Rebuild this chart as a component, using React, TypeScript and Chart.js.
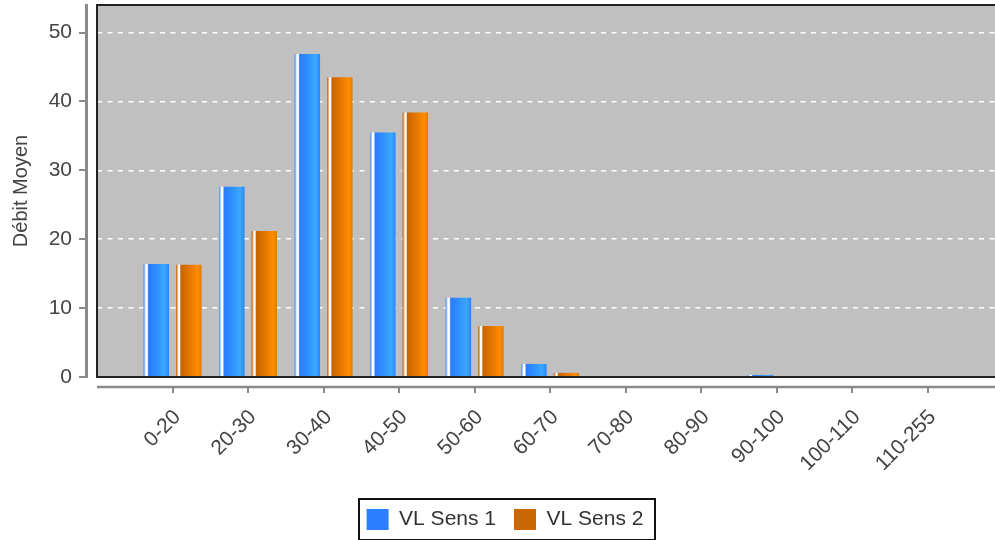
import React, { useEffect, useRef } from 'react';
import { Chart, registerables } from 'chart.js';

Chart.register(...registerables);

const categories = ['0-20', '20-30', '30-40', '40-50', '50-60', '60-70', '70-80', '80-90', '90-100', '100-110', '110-255'];
const sens1 = [16.4, 27.6, 46.9, 35.5, 11.5, 1.9, 0, 0, 0.3, 0, 0];
const sens2 = [16.3, 21.2, 43.5, 38.4, 7.4, 0.6, 0.1, 0, 0, 0.1, 0.1];
const seriesNames = ['VL Sens 1', 'VL Sens 2'];
const seriesColors = ['#2a7fff', '#cc6600'];
const yTickStep = 10;
const yMax = 54;
const xMax = 12.09;
const yTitle = 'Débit Moyen';

const FONT = "Arial, 'Liberation Sans', sans-serif";

const gradientStops: [number, string][][] = [
  [
    [0, '#4a8ef0'], [0.06, '#a9ccff'], [0.09, '#ffffff'], [0.15, '#ffffff'], [0.2, '#2a7cff'],
    [0.55, '#3092ff'], [0.82, '#3aa8ff'], [0.94, '#3192ff'], [1, '#2a80ff'],
  ],
  [
    [0, '#c06000'], [0.06, '#e6b080'], [0.09, '#fff6ec'], [0.14, '#ffffff'], [0.19, '#c86400'],
    [0.55, '#e67800'], [0.85, '#ff8c00'], [1, '#e27a00'],
  ],
];

const gradientPlugin = {
  id: 'barGradient',
  beforeDatasetsDraw(chart: any) {
    const ctx = chart.ctx;
    chart.data.datasets.forEach((_ds: any, di: number) => {
      const meta = chart.getDatasetMeta(di);
      meta.data.forEach((el: any) => {
        const left = el.x - el.width / 2;
        const right = el.x + el.width / 2;
        if (!isFinite(left) || !isFinite(right) || right <= left) return;
        const g = ctx.createLinearGradient(left, 0, right, 0);
        gradientStops[di].forEach(([o, c]) => g.addColorStop(o, c));
        try {
          el.options.backgroundColor = g;
        } catch (e) {
          /* ignore */
        }
      });
    });
  },
};

const framePlugin = {
  id: 'frame',
  beforeDraw(chart: any) {
    const { ctx, chartArea: a } = chart;
    ctx.save();
    ctx.fillStyle = '#c0c0c0';
    ctx.fillRect(a.left, a.top, a.right - a.left, a.bottom - a.top);
    ctx.restore();
  },
  afterDatasetsDraw(chart: any) {
    const { ctx, chartArea: a, scales } = chart;
    ctx.save();
    // plot border
    ctx.strokeStyle = '#222';
    ctx.lineWidth = 2;
    ctx.beginPath();
    ctx.moveTo(a.right + 2, a.top);
    ctx.lineTo(a.left, a.top);
    ctx.lineTo(a.left, a.bottom);
    ctx.lineTo(a.right + 2, a.bottom);
    ctx.stroke();

    // y axis line and tick marks
    ctx.strokeStyle = '#8a8a8a';
    ctx.lineWidth = 3;
    ctx.beginPath();
    ctx.moveTo(a.left - 10.5, a.top - 1);
    ctx.lineTo(a.left - 10.5, a.bottom + 1);
    ctx.stroke();
    ctx.lineWidth = 2;
    ctx.beginPath();
    scales.y.ticks.forEach((t: any) => {
      const py = Math.round(scales.y.getPixelForValue(t.value));
      ctx.moveTo(a.left - 18, py);
      ctx.lineTo(a.left - 10.5, py);
    });
    ctx.stroke();

    // x axis line and tick marks
    ctx.lineWidth = 2.5;
    ctx.beginPath();
    ctx.moveTo(a.left, a.bottom + 10);
    ctx.lineTo(a.right + 2, a.bottom + 10);
    ctx.stroke();
    ctx.lineWidth = 2;
    ctx.beginPath();
    scales.x.ticks.forEach((t: any) => {
      const px = Math.round(scales.x.getPixelForValue(t.value));
      ctx.moveTo(px, a.bottom + 10);
      ctx.lineTo(px, a.bottom + 16);
    });
    ctx.stroke();
    ctx.restore();
  },
  afterDraw(chart: any) {
    const lg = chart.legend;
    if (!lg || !lg.legendHitBoxes || !lg.legendHitBoxes.length) return;
    const hb = lg.legendHitBoxes;
    const minLeft = Math.min(...hb.map((h: any) => h.left));
    const maxRight = Math.max(...hb.map((h: any) => h.left + h.width));
    const top = Math.min(...hb.map((h: any) => h.top));
    const ctx = chart.ctx;
    ctx.save();
    ctx.strokeStyle = '#111';
    ctx.lineWidth = 2;
    const L = Math.round(minLeft - 8);
    const R = Math.round(maxRight + 12);
    const T = Math.round(top - 10);
    const B = Math.round(top + 31);
    ctx.strokeRect(L, T, R - L, B - T);
    ctx.restore();
  },
};

export default function App() {
  const ref = useRef<HTMLCanvasElement>(null);

  useEffect(() => {
    if (!ref.current) return;
    const seriesValues = [sens1, sens2];
    const chart = new Chart(ref.current, {
      type: 'bar',
      data: {
        datasets: seriesValues.map((vals, di) => ({
          label: seriesNames[di],
          data: vals.map((v, i) => ({ x: i + 1, y: v })),
          backgroundColor: () => seriesColors[di],
          borderWidth: 0,
          categoryPercentage: 0.861,
          barPercentage: 0.785,
        })),
      },
      options: {
        responsive: false,
        animation: false,
        events: [],
        layout: { padding: { top: 5, left: 0, right: 0, bottom: 0 } },
        scales: {
          x: {
            type: 'linear',
            min: 0,
            max: xMax,
            offset: false,
            afterBuildTicks: (s: any) => {
              s.ticks = categories.map((_c, i) => ({ value: i + 1 }));
            },
            afterFit: (s: any) => {
              s.height = 114;
            },
            grid: { display: false, drawTicks: false },
            border: { display: false },
            ticks: {
              autoSkip: false,
              minRotation: 45,
              maxRotation: 45,
              padding: 28,
              labelOffset: 5,
              color: '#444',
              font: { family: FONT, size: 21 },
              callback: (v: any) => categories[Math.round(v) - 1] ?? '',
            },
          },
          y: {
            type: 'linear',
            min: 0,
            max: yMax,
            afterBuildTicks: (s: any) => {
              s.ticks = s.ticks.filter((t: any) => t.value % yTickStep === 0);
            },
            afterFit: (s: any) => {
              s.width = 97;
            },
            grid: {
              color: '#ffffff',
              lineWidth: 1.5,
              drawTicks: true,
              tickLength: 33,
              tickColor: 'rgba(0,0,0,0)',
            },
            border: { display: false, dash: [5, 5.5] },
            ticks: {
              stepSize: yTickStep,
              padding: -8,
              color: '#444',
              font: { family: FONT, size: 21 },
            },
            title: {
              display: true,
              text: yTitle,
              color: '#444',
              font: { family: FONT, size: 20 },
              padding: { top: 9, bottom: 0 },
            },
          },
        },
        plugins: {
          tooltip: { enabled: false },
          legend: {
            display: true,
            position: 'bottom',
            maxHeight: 50,
            labels: {
              boxWidth: 22,
              boxHeight: 21,
              padding: 18,
              color: '#333',
              font: { family: FONT, size: 21 },
              generateLabels: (ch: any) => {
                const items = Chart.defaults.plugins.legend.labels.generateLabels(ch);
                return items.map((it: any, i: number) => ({
                  ...it,
                  fillStyle: seriesColors[i],
                  strokeStyle: 'rgba(0,0,0,0)',
                  lineWidth: 0,
                }));
              },
            },
          },
        },
      } as any,
      plugins: [gradientPlugin, framePlugin],
    });
    return () => chart.destroy();
  }, []);

  return (
    <div style={{ position: 'fixed', left: 0, top: 0, width: 995, height: 540, overflow: 'hidden', background: '#fff' }}>
      <canvas ref={ref} width={1010} height={540} style={{ display: 'block', width: 1010, height: 540 }} />
    </div>
  );
}
